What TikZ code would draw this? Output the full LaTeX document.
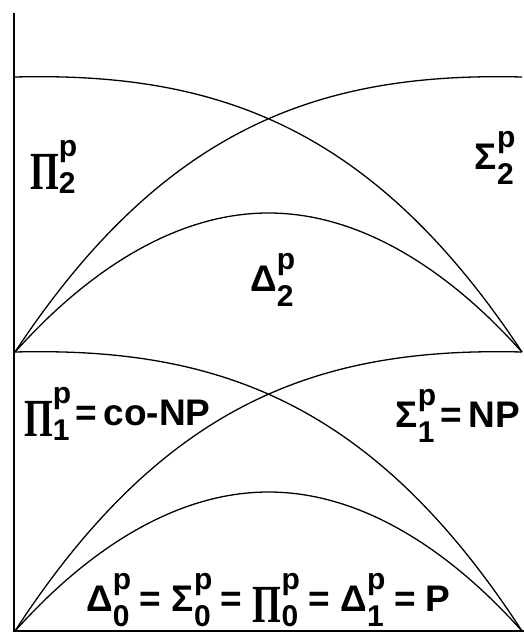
\documentclass[tikz,border=0pt]{standalone}
\usepackage{fontspec}
\setmainfont{Liberation Sans}
\newfontfamily\serifgreek{Liberation Serif}
\usepackage{graphicx}

% tall serif Pi and stacked p / level index
\newcommand{\bigpi}{\raisebox{-0.3em}{\scalebox{1}[1.45]{\serifgreek Π}}}
\newcommand{\lvl}[1]{\rlap{\raisebox{0.6em}{\fontsize{30}{34}\selectfont p}}%
  \raisebox{-0.42em}{\fontsize{30}{34}\selectfont #1}}

\begin{document}
\begin{tikzpicture}[x=1pt, y=-1pt,
  every node/.style={inner sep=0pt, font=\fontsize{37}{42}\selectfont\bfseries},
  curve/.style={line width=1.3pt},
  axis/.style={line width=2pt}]
\useasboundingbox (0,0) rectangle (524,635);

% axes
\coordinate (top) at (14,13);
\coordinate (orig) at (14,631);
\coordinate (right) at (524,631);
\draw[axis] (top) -- (orig) -- (right);

% one band per level: T = upper line, B = lower line
\foreach \T/\B in {77/352, 352/631} {
  \draw[curve] (15,\T) .. controls (215,\T-5) and (372,\T+48) .. (522,\B);
  \draw[curve] (15,\B) .. controls (165,\T+48) and (322,\T-5) .. (522,\T);
  \draw[curve] (15,\B) parabola bend (268.5,\B-139) (522,\B);
}

% labels
\node[anchor=west] (pitwo) at (30,167) {\bigpi\lvl{2}};
\node[anchor=east] (sigmatwo) at (514,158) {Σ\lvl{2}};
\node (deltatwo) at (272,280) {Δ\lvl{2}};
\node[anchor=west] (pione) at (24,414) {\bigpi\lvl{1}\,=\,co-NP};
\node[anchor=east] (sigmaone) at (520,416) {Σ\lvl{1}\,=\,NP};
\node (base) at (268.5,600) {Δ\lvl{0} = Σ\lvl{0} = \bigpi\lvl{0} = Δ\lvl{1} = P};
\end{tikzpicture}
\end{document}
